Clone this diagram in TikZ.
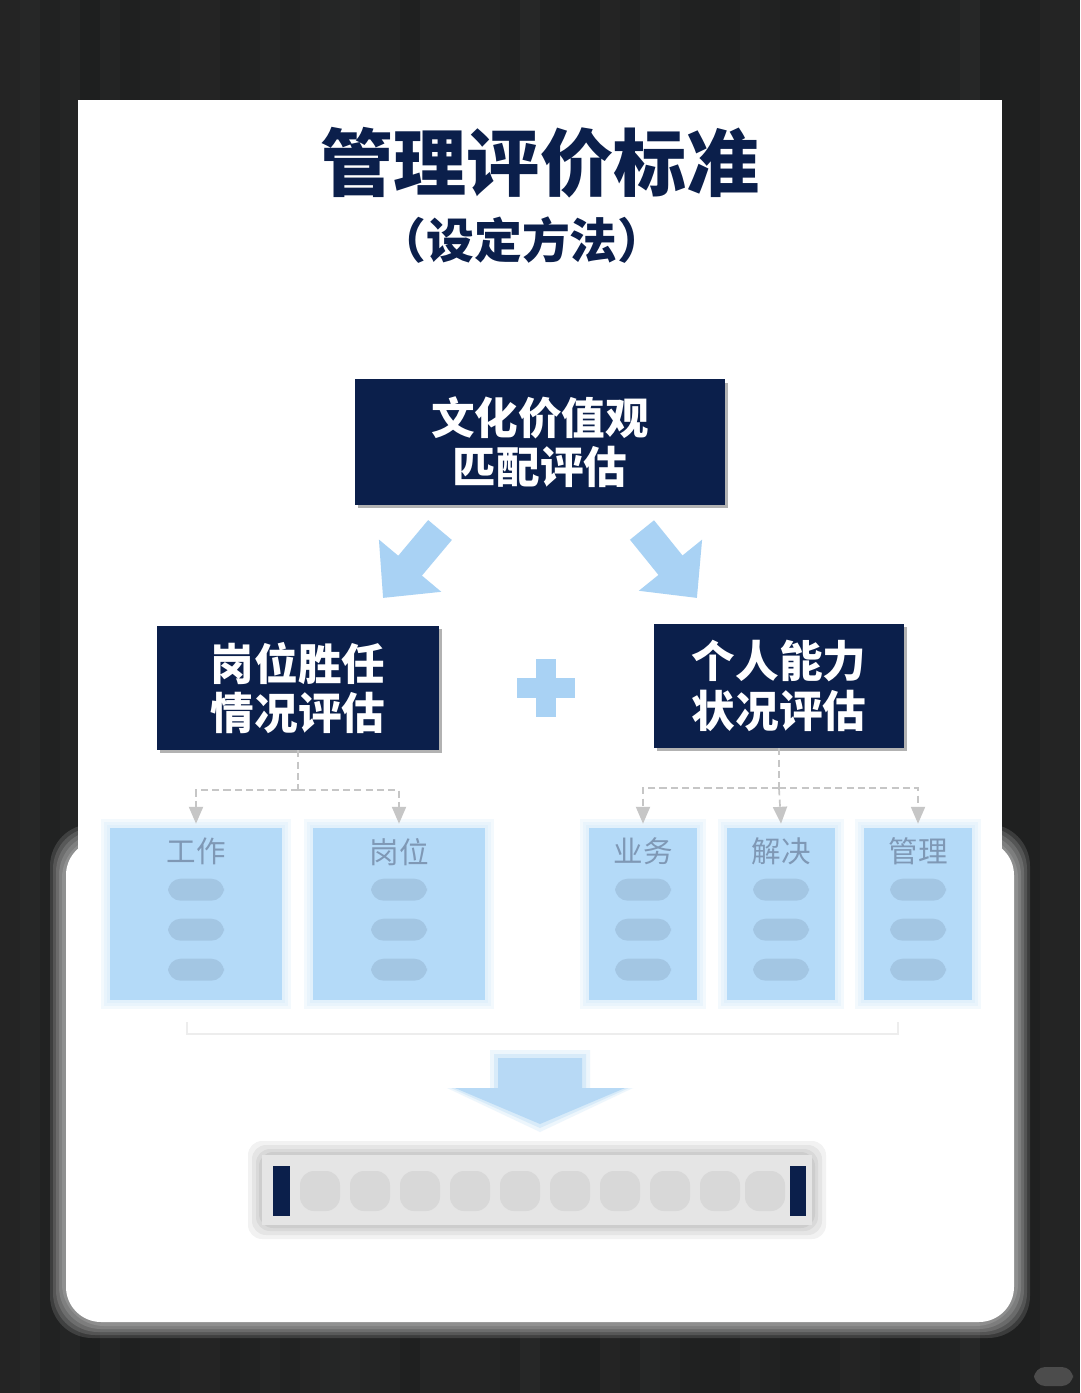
\documentclass[tikz,border=0pt]{standalone}
\usepackage{fontspec}
\newfontfamily\cjk{Noto Sans CJK SC}
\usetikzlibrary{arrows.meta,positioning,calc}
\definecolor{navy}{HTML}{0B1F4B}
\definecolor{skyarrow}{HTML}{A9D2F4}
\definecolor{palebox}{HTML}{B4DAF8}
\definecolor{dashgray}{HTML}{C6C6C6}
\definecolor{headgray}{HTML}{7F98B5}
\definecolor{bgdark}{HTML}{1C1D1D}
\begin{document}
\begin{tikzpicture}[x=0.025cm,y=-0.025cm,
    navybox/.style={fill=navy, text=white, align=center, inner sep=0pt,
      font=\cjk\bfseries\fontsize{31}{35}\selectfont},
    palecell/.style={fill=palebox, inner sep=0pt, minimum height=4.3cm},
    headtxt/.style={text=headgray, font=\cjk\fontsize{21}{24}\selectfont},
    dashlink/.style={dashgray, line width=1.2pt, dash pattern=on 5pt off 3pt},
    droptip/.style={-{Triangle[width=10pt,length=12pt]}},
    bigarrow/.style={skyarrow, line width=22pt, -{Triangle[length=30pt,width=56pt]}}]
  \useasboundingbox (0,0) rectangle (1080,1393);
  % dark striped backdrop
  \fill[bgdark] (0,0) rectangle (1080,1393);
  \pgfmathsetseed{11}
  \foreach \i in {0,...,53}{
    \pgfmathsetmacro\op{0.01+0.04*rnd}
    \fill[white, opacity=\op] (\i*20,0) rectangle (\i*20+20,1393);
  }
  % card, soft at the bottom
  \foreach \g in {16,13,10,7,4}
    \fill[white, opacity=0.13, rounded corners=30] (66-\g,840-\g) rectangle (1014+\g,1322+\g);
  \fill[white, rounded corners=25] (66,840) rectangle (1014,1322);
  \fill[white] (78,100) rectangle (1002,900);
  % title
  \node[text=navy, font=\cjk\bfseries\fontsize{52}{56}\selectfont] (title) at (540,163) {管理评价标准};
  \node[text=navy, font=\cjk\bfseries\fontsize{34}{38}\selectfont] (subtitle) at (522,240) {（设定方法）};
  % main boxes
  \fill[black!30] (358,383) rectangle (728,508);
  \node[navybox, minimum width=9.25cm, minimum height=3.125cm] (culture) at (540,442) {文化价值观\\匹配评估};
  \fill[black!30] (160,629) rectangle (442,753);
  \node[navybox, minimum width=7.05cm, minimum height=3.1cm] (post) at (298,688) {岗位胜任\\情况评估};
  \fill[black!30] (657,627) rectangle (907,751);
  \node[navybox, minimum width=6.25cm, minimum height=3.1cm] (ability) at (779,686) {个人能力\\状况评估};
  % block arrows
  \coordinate (la0) at (440,530);
  \coordinate (la1) at (383,598);
  \coordinate (ra0) at (642,530);
  \coordinate (ra1) at (697,598);
  \draw[bigarrow] (la0) -- (la1);
  \draw[bigarrow] (ra0) -- (ra1);
  % plus
  \node (plus) at (546,688) {};
  \draw[skyarrow, line width=14pt] ($(plus)+(-29,0)$) -- ($(plus)+(29,0)$);
  \draw[skyarrow, line width=14pt] ($(plus)+(0,-29)$) -- ($(plus)+(0,29)$);
  % pale cells
  \node[palecell, minimum width=4.3cm] (work) at (196,914) {};
  \node[palecell, minimum width=4.3cm] (role) at (399,914) {};
  \node[palecell, minimum width=2.675cm] (biz) at (643,914) {};
  \node[palecell, minimum width=2.675cm] (solve) at (781,914) {};
  \node[palecell, minimum width=2.675cm] (mgmt) at (918,914) {};
  \foreach \b in {work,role,biz,solve,mgmt}{
    \foreach \g in {9,6,3}
      \fill[palebox, opacity=0.15] ($(\b.south west)+(-\g,\g)$) rectangle ($(\b.north east)+(\g,-\g)$);
    \foreach \y in {890,930,970}
      \fill[headgray, opacity=0.3, rounded corners=9] ($(\b.north)+(-28,\y-828-11)$) rectangle ($(\b.north)+(28,\y-828+11)$);
  }
  \node[headtxt] (workhd) at ($(work.north)+(0,24)$) {工作};
  \node[headtxt] (rolehd) at ($(role.north)+(0,24)$) {岗位};
  \node[headtxt] (bizhd) at ($(biz.north)+(0,24)$) {业务};
  \node[headtxt] (solvehd) at ($(solve.north)+(0,24)$) {解决};
  \node[headtxt] (mgmthd) at ($(mgmt.north)+(0,24)$) {管理};
  % dashed links
  \begin{scope}[dashlink]
    \draw (post.south) -- ++(0,40) coordinate (lsplit);
    \draw[droptip] (lsplit) -| ($(work.north)+(0,-4)$);
    \draw[droptip] (lsplit) -| ($(role.north)+(0,-4)$);
    \draw (ability.south) -- ++(0,40) coordinate (rsplit);
    \draw[droptip] (rsplit) -| ($(biz.north)+(0,-4)$);
    \draw[droptip] (rsplit) -- ($(solve.north)+(0,-4)$);
    \draw[droptip] (rsplit) -| ($(mgmt.north)+(0,-4)$);
  \end{scope}
  % faint bracket and down arrow
  \draw[black!7, line width=1.5pt] (187,1022) |- (898,1034) -- (898,1022);
  \foreach \g/\o in {8/0.2,4/0.3,0/0.7}
    \fill[skyarrow, opacity=\o] (498-\g,1058-\g) -- (582+\g,1058-\g) -- (582+\g,1088) -- (625+\g,1088)
      -- (540,1124+\g) -- (455-\g,1088) -- (498-\g,1088) -- cycle;
  % result banner
  \foreach \g in {14,10,6,3}
    \fill[black, opacity=0.05, rounded corners=10] (262-\g,1155-\g) rectangle (812+\g,1225+\g);
  \node[fill=black!10, minimum width=13.75cm, minimum height=1.75cm, inner sep=0pt] (result) at (537,1190) {};
  \fill[navy] (273,1166) rectangle (290,1216);
  \fill[navy] (790,1166) rectangle (806,1216);
  \foreach \x in {320,370,420,470,520,570,620,670,720,765}
    \fill[black!20, opacity=0.5, rounded corners=10] (\x-20,1171) rectangle (\x+20,1211);
  % watermark pill
  \fill[black!70, rounded corners=8] (1034,1367) rectangle (1073,1386);
\end{tikzpicture}
\end{document}
